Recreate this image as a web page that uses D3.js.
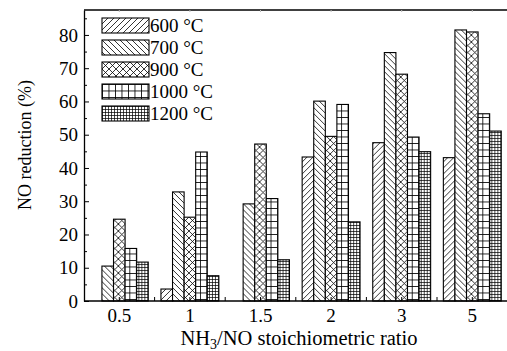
<!DOCTYPE html>
<html>
<head>
<meta charset="utf-8">
<script src="https://cdn.jsdelivr.net/npm/d3@7"></script>
<style>
  body { margin: 0; background: #fff; }
  svg { display: block; }
  text { font-family: "Liberation Serif", "Times New Roman", serif; fill: #000; }
</style>
</head>
<body>
<svg id="chart" width="507" height="351"></svg>
<script>
// data
var ratios = ["0.5", "1", "1.5", "2", "3", "5"];
var temps = ["600 °C", "700 °C", "900 °C", "1000 °C", "1200 °C"];
var t600 = [0, 3.6, 0, 43.3, 47.6, 43.1];
var t700 = [10.5, 32.8, 29.2, 60.1, 74.7, 81.5];
var t900 = [24.6, 25.2, 47.2, 49.5, 68.2, 80.9];
var t1000 = [15.8, 44.8, 30.8, 59.1, 49.3, 56.3];
var t1200 = [11.7, 7.6, 12.4, 23.8, 44.9, 51.1];
var series = [t600, t700, t900, t1000, t1200];
var yTicks = [0, 10, 20, 30, 40, 50, 60, 70, 80];

var svg = d3.select("#chart");
var pLeft = 84, pRight = 507.6, pTop = 10, pBottom = 301;

var x = d3.scaleBand().domain(ratios).range([pLeft, pRight]).paddingInner(0.18).paddingOuter(0.09);
var xs = d3.scaleBand().domain(temps).range([0, x.bandwidth()]);
var y = d3.scaleLinear().domain([0, 87.5]).range([pBottom, pTop]);

// hatch patterns
var defs = svg.append("defs");
function pat(id, w, h, paths, sw) {
    var p = defs.append("pattern").attr("id", id)
        .attr("patternUnits", "userSpaceOnUse")
        .attr("width", w).attr("height", h);
    p.append("rect").attr("width", w).attr("height", h).attr("fill", "#fff");
    paths.forEach(function (d) {
        p.append("path").attr("d", d).attr("stroke", "#000")
            .attr("stroke-width", sw).attr("fill", "none");
    });
}
pat("p600", 6, 6, ["M-1,7 L7,-1", "M-4,4 L4,-4", "M2,10 L10,2"], 0.8);
pat("p700", 6, 6, ["M-1,-1 L7,7", "M-4,2 L4,10", "M2,-4 L10,4"], 0.8);
pat("p900", 7, 7, ["M0,0 L7,7", "M0,7 L7,0", "M-1,6 L1,8", "M6,-1 L8,1"], 0.8);
pat("p1000", 6.5, 6.5, ["M0,0.4 L6.5,0.4", "M0.4,0 L0.4,6.5"], 0.9);
pat("p1200", 3, 3, ["M0,0.4 L3,0.4", "M0.4,0 L0.4,3"], 0.8);
var patIds = ["p600", "p700", "p900", "p1000", "p1200"];

// bars
var groups = svg.append("g").selectAll("g").data(ratios).enter().append("g")
    .attr("transform", function (d) { return "translate(" + x(d) + ",0)"; });

groups.selectAll("rect")
    .data(function (d, i) {
        return temps.map(function (t, j) { return { t: t, j: j, v: series[j][i] }; })
            .filter(function (e) { return e.v > 0; });
    })
    .enter().append("rect")
    .attr("x", function (e) { return xs(e.t); })
    .attr("y", function (e) { return y(e.v); })
    .attr("width", xs.bandwidth())
    .attr("height", function (e) { return pBottom - y(e.v); })
    .attr("fill", function (e) { return "url(#" + patIds[e.j] + ")"; })
    .attr("stroke", "#000")
    .attr("stroke-width", 1.1);

// frame
svg.append("line").attr("x1", pLeft).attr("x2", 507).attr("y1", pTop).attr("y2", pTop)
    .attr("stroke", "#000").attr("stroke-width", 1.3);

// top faint ticks
svg.append("g").selectAll("line").data(ratios).enter().append("line")
    .attr("x1", function (d) { return x(d) + x.bandwidth() / 2; })
    .attr("x2", function (d) { return x(d) + x.bandwidth() / 2; })
    .attr("y1", pTop).attr("y2", pTop + 2)
    .attr("stroke", "#bbb").attr("stroke-width", 1);

// y axis
var yAxis = svg.append("g").attr("transform", "translate(" + pLeft + ",0)")
    .call(d3.axisLeft(y).tickValues(yTicks).tickSizeInner(-5).tickSizeOuter(0).tickPadding(6)
        .tickFormat(d3.format("d")));
yAxis.select(".domain").attr("stroke-width", 1.3);
yAxis.selectAll("text").style("font-size", "19px");

var yMinor = svg.append("g").attr("transform", "translate(" + pLeft + ",0)")
    .call(d3.axisLeft(y).tickValues([5, 15, 25, 35, 45, 55, 65, 75, 85]).tickSize(-3).tickFormat(""));
yMinor.select(".domain").remove();

// x axis
var xAxis = svg.append("g").attr("transform", "translate(0," + pBottom + ")")
    .call(d3.axisBottom(x).tickSizeInner(-4).tickSizeOuter(0).tickPadding(8));
xAxis.select(".domain").attr("d", "M" + pLeft + ",0H507").attr("stroke-width", 1.3);
xAxis.selectAll("text").style("font-size", "19px");

var mids = ratios.slice(1).map(function (d) { return x(d) - x.step() * x.paddingInner() / 2; });
svg.append("g").selectAll("line").data(mids).enter().append("line")
    .attr("x1", function (d) { return d; }).attr("x2", function (d) { return d; })
    .attr("y1", pBottom).attr("y2", pBottom - 4)
    .attr("stroke", "#000").attr("stroke-width", 1);

// axis titles
svg.append("text")
    .attr("transform", "translate(31,145) rotate(-90)")
    .attr("text-anchor", "middle")
    .style("font-size", "18px")
    .text("NO reduction (%)");

var xt = svg.append("text")
    .attr("x", 299).attr("y", 345)
    .attr("text-anchor", "middle")
    .style("font-size", "20.5px");
xt.append("tspan").text("NH");
xt.append("tspan").attr("dy", 4).style("font-size", "14px").text("3");
xt.append("tspan").attr("dy", -4).text("/NO stoichiometric ratio");

// legend
var legend = svg.append("g").attr("transform", "translate(102,18)");
var lg = legend.selectAll("g").data(temps).enter().append("g")
    .attr("transform", function (d, i) { return "translate(0," + (i * 22) + ")"; });
lg.append("rect")
    .attr("width", 47).attr("height", 15)
    .attr("fill", function (d, i) { return "url(#" + patIds[i] + ")"; })
    .attr("stroke", "#000").attr("stroke-width", 1.1);
lg.append("text")
    .attr("x", 48).attr("y", 14)
    .style("font-size", "19px")
    .text(function (d) { return d; });
</script>
</body>
</html>
